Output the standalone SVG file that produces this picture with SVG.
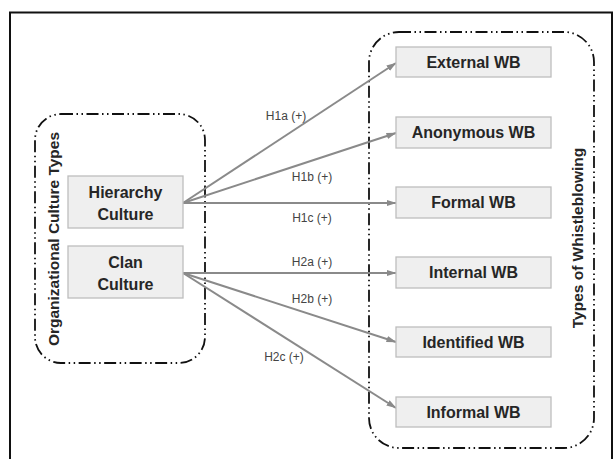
<svg xmlns="http://www.w3.org/2000/svg" width="614" height="459" viewBox="0 0 614 459">
  <defs>
    <marker id="arr" markerUnits="userSpaceOnUse" markerWidth="10" markerHeight="8" refX="9.5" refY="4" orient="auto">
      <path d="M0,0.8 L10,4 L0,7.2 z" fill="#8a8a8a"/>
    </marker>
    <style>
      .frame { fill: none; stroke: #111; stroke-width: 2; }
      .group { fill: none; stroke: #111; stroke-width: 1.8; stroke-dasharray: 12 3.5 1.5 3.5 1.5 3.5; }
      .box { fill: #efefef; stroke: #bdbdbd; stroke-width: 1.3; }
      .bt { font-family: "Liberation Sans", Arial, sans-serif; font-weight: bold; font-size: 16px; fill: #262626; text-anchor: middle; dominant-baseline: central; }
      .title { font-family: "Liberation Sans", Arial, sans-serif; font-weight: bold; font-size: 15.5px; fill: #262626; text-anchor: middle; dominant-baseline: central; }
      .lbl { font-family: "Liberation Sans", Arial, sans-serif; font-size: 12px; fill: #444; text-anchor: middle; dominant-baseline: central; }
      .conn { fill: none; stroke: #8a8a8a; stroke-width: 2; marker-end: url(#arr); }
    </style>
  </defs>
  <rect width="614" height="459" fill="#ffffff"/>
  <path class="frame" d="M10,459 V12.5 H612 V459"/>

  <g id="org-culture-types">
    <rect class="group" x="35" y="114" width="170" height="249" rx="26" ry="26"/>
    <text class="title" transform="translate(53,239) rotate(-90)">Organizational Culture Types</text>
  </g>
  <g id="types-of-whistleblowing">
    <rect class="group" x="369" y="32" width="225" height="416" rx="30" ry="30"/>
    <text class="title" transform="translate(577,238) rotate(-90)">Types of Whistleblowing</text>
  </g>

  <g id="connectors">
    <line class="conn" x1="183" y1="203" x2="396" y2="63"/>
    <line class="conn" x1="183" y1="203" x2="396" y2="133"/>
    <line class="conn" x1="183" y1="203" x2="396" y2="203"/>
    <line class="conn" x1="183" y1="273" x2="396" y2="273"/>
    <line class="conn" x1="183" y1="273" x2="396" y2="342"/>
    <line class="conn" x1="183" y1="273" x2="396" y2="408"/>
    <text class="lbl" x="286" y="116">H1a (+)</text>
    <text class="lbl" x="312" y="177">H1b (+)</text>
    <text class="lbl" x="312" y="218">H1c (+)</text>
    <text class="lbl" x="312" y="262">H2a (+)</text>
    <text class="lbl" x="312" y="299">H2b (+)</text>
    <text class="lbl" x="284" y="357">H2c (+)</text>
  </g>

  <g id="hierarchy-culture">
    <rect class="box" x="68" y="176" width="115" height="52"/>
    <text class="bt" x="125.5" y="192">Hierarchy</text>
    <text class="bt" x="125.5" y="214">Culture</text>
  </g>
  <g id="clan-culture">
    <rect class="box" x="68" y="246" width="115" height="52"/>
    <text class="bt" x="125.5" y="262">Clan</text>
    <text class="bt" x="125.5" y="284">Culture</text>
  </g>

  <g id="external-wb">
    <rect class="box" x="396" y="47" width="155" height="30"/>
    <text class="bt" x="473.5" y="62">External WB</text>
  </g>
  <g id="anonymous-wb">
    <rect class="box" x="396" y="117" width="155" height="31"/>
    <text class="bt" x="473.5" y="132.5">Anonymous WB</text>
  </g>
  <g id="formal-wb">
    <rect class="box" x="396" y="187" width="155" height="31"/>
    <text class="bt" x="473.5" y="202.5">Formal WB</text>
  </g>
  <g id="internal-wb">
    <rect class="box" x="396" y="257" width="155" height="31"/>
    <text class="bt" x="473.5" y="272.5">Internal WB</text>
  </g>
  <g id="identified-wb">
    <rect class="box" x="396" y="327" width="155" height="30"/>
    <text class="bt" x="473.5" y="342">Identified WB</text>
  </g>
  <g id="informal-wb">
    <rect class="box" x="396" y="397" width="155" height="30"/>
    <text class="bt" x="473.5" y="412">Informal WB</text>
  </g>
</svg>
